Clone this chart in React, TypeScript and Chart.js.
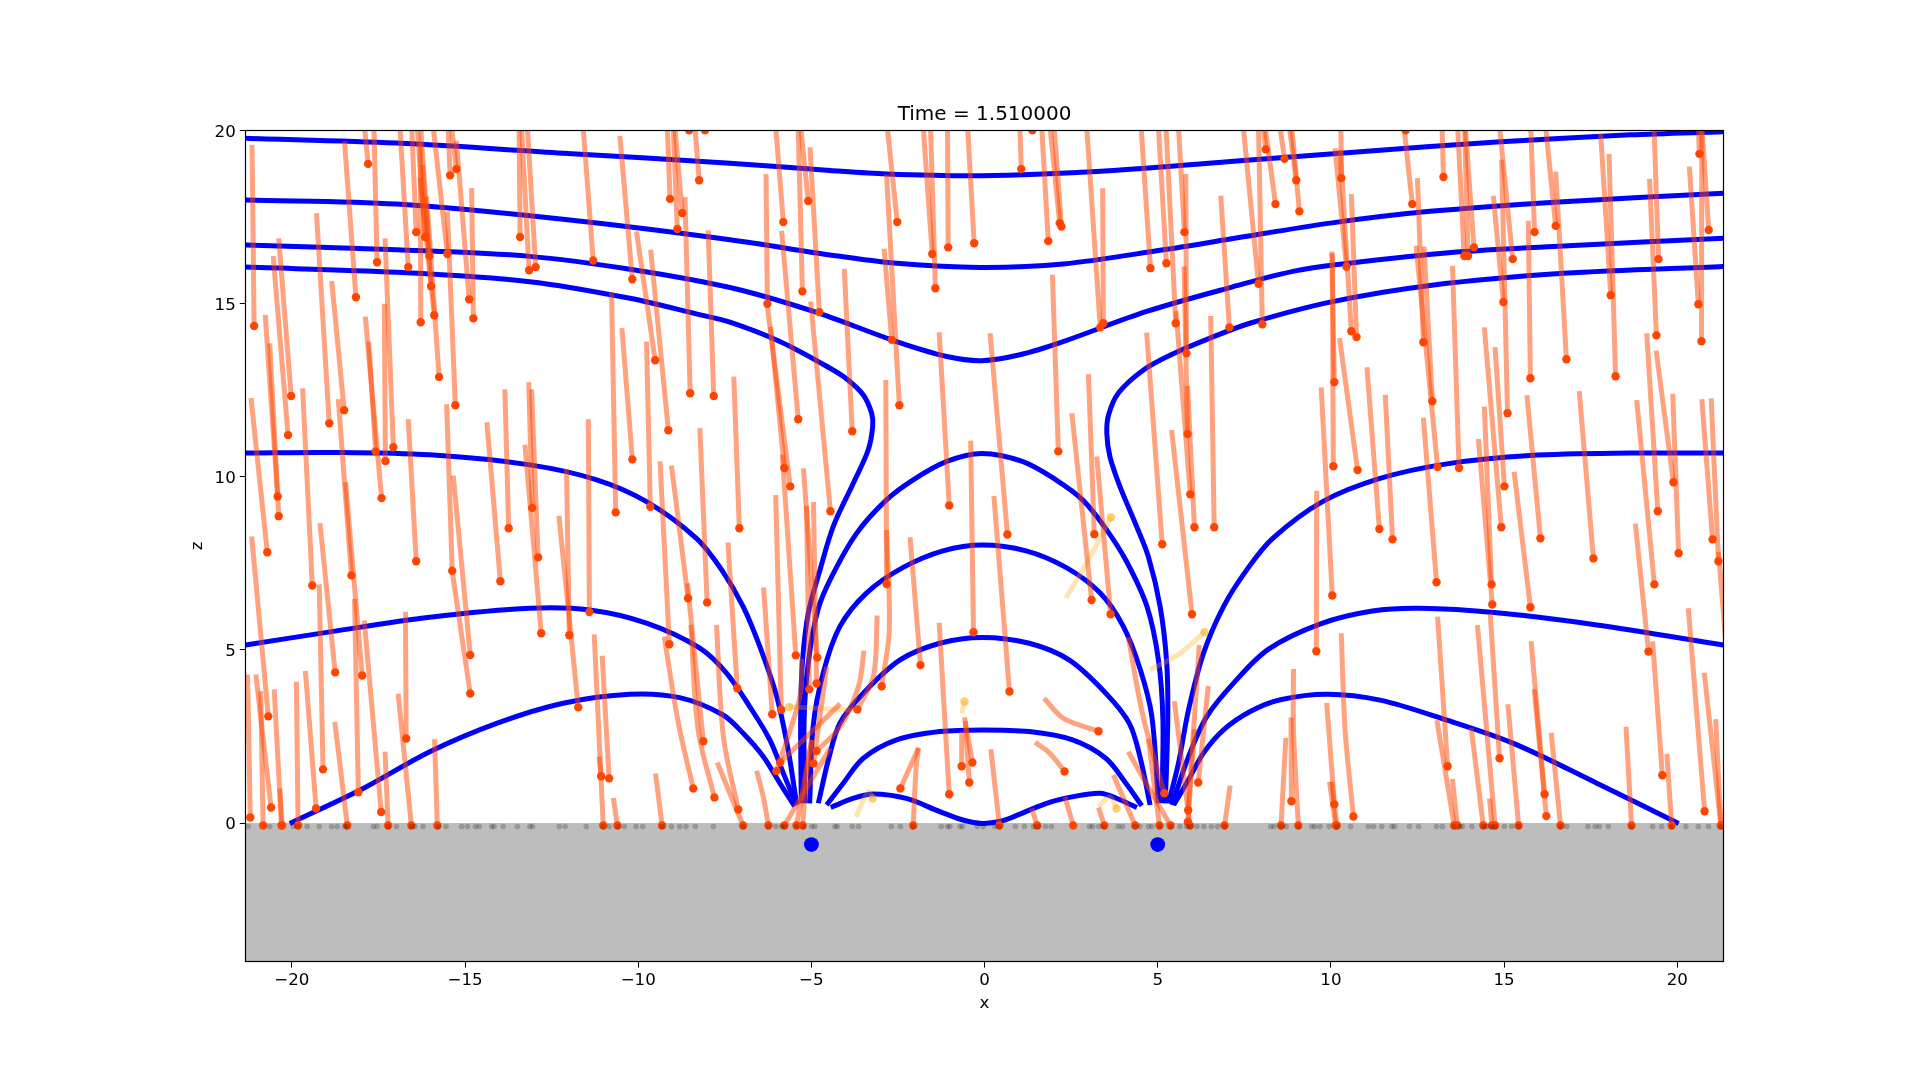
import React, { useEffect, useRef } from "react";
import { Chart, registerables } from "chart.js";

Chart.register(...registerables);

const titleText = "Time = 1.510000";
const xTicks = [-20, -15, -10, -5, 0, 5, 10, 15, 20];
const zTicks = [0, 5, 10, 15, 20];
const xLimit = 21.33;
const zMin = -4;
const zMax = 20;

// Field lines as [x, z] rows
const fieldTopA = [[-21.33,19.77],[-16.98,19.63],[-12.17,19.34],[-7.35,19.05],[-4.46,18.84],[-2.83,18.74],[-0.13,18.69],[3.24,18.81],[7.09,19.1],[10.94,19.39],[14.79,19.66],[18.64,19.87],[21.33,19.96]];
const fieldTopB = [[-21.33,17.99],[-16.98,17.87],[-12.17,17.43],[-7.35,16.84],[-4.46,16.4],[-2.54,16.16],[-0.13,16.04],[2.27,16.14],[5.16,16.55],[7.09,16.86],[9.98,17.32],[12.86,17.66],[16.71,17.94],[21.33,18.18]];
const fieldTopC = [[-21.33,16.69],[-16.98,16.55],[-13.13,16.36],[-10.24,15.99],[-7.35,15.46],[-4.94,14.77],[-2.54,13.9],[-1.09,13.47],[-0.08,13.35],[1.02,13.52],[2.27,13.9],[4.68,14.77],[7.09,15.46],[9.01,15.95],[10.94,16.21],[13.83,16.5],[16.71,16.66],[21.33,16.88]];
const fieldLeftD = [[-21.33,16.05],[-16.98,15.9],[-13.13,15.63],[-10.24,15.15],[-8.32,14.7],[-7.35,14.46],[-5.91,13.9],[-4.46,13.13],[-3.98,12.82],[-3.5,12.36],[-3.26,11.83],[-3.23,11.45],[-3.36,10.77],[-3.79,9.81],[-4.37,8.56],[-4.75,7.31],[-5.09,6.06],[-5.26,4.62],[-5.31,2.98],[-5.29,0.57]];
const fieldRightD = [[21.33,16.07],[16.71,15.87],[12.86,15.52],[9.98,15.04],[7.66,14.43],[6.51,14.0],[5.45,13.55],[4.59,13.08],[3.86,12.41],[3.58,11.78],[3.53,11.25],[3.62,10.58],[3.91,9.71],[4.35,8.66],[4.73,7.69],[5.07,6.25],[5.26,4.62],[5.29,2.98],[5.22,0.57]];
const fieldLeftG = [[-21.33,10.68],[-18.9,10.7],[-16.02,10.63],[-13.13,10.34],[-11.2,9.91],[-9.76,9.28],[-8.32,8.22],[-7.59,7.31],[-6.97,6.25],[-6.49,5.1],[-6.0,3.65],[-5.67,2.11],[-5.43,0.57]];
const fieldRightG = [[21.33,10.68],[18.64,10.68],[15.75,10.61],[13.35,10.37],[11.42,9.95],[9.76,9.28],[8.32,8.22],[7.57,7.31],[6.9,6.25],[6.32,4.9],[5.89,3.27],[5.6,1.73],[5.31,0.57]];
const fieldLeftE = [[-21.33,5.14],[-18.9,5.52],[-16.02,5.94],[-13.13,6.2],[-11.4,6.15],[-9.76,5.77],[-8.22,5.05],[-7.45,4.33],[-6.78,3.36],[-6.2,2.4],[-5.77,1.34],[-5.43,0.52]];
const fieldRightE = [[21.33,5.14],[17.68,5.72],[14.79,6.07],[12.58,6.2],[11.2,6.12],[9.7,5.75],[8.2,5.02],[7.19,4.04],[6.42,3.08],[5.89,1.92],[5.41,0.52]];
const fieldLeftF = [[-20.06,-0.01],[-17.94,1.0],[-16.02,2.06],[-14.09,2.88],[-12.17,3.46],[-10.24,3.72],[-8.8,3.62],[-7.55,3.12],[-6.97,2.59],[-6.39,1.92],[-5.91,1.15],[-5.48,0.48]];
const fieldRightF = [[20.04,-0.01],[17.68,1.15],[15.27,2.3],[13.35,2.97],[11.42,3.55],[9.9,3.72],[8.54,3.56],[7.67,3.22],[6.9,2.69],[6.32,2.02],[5.89,1.25],[5.46,0.52]];
const fieldArchH = [[-5.19,0.57],[-5.21,2.98],[-5.09,4.62],[-4.81,6.16],[-4.41,7.12],[-3.69,8.37],[-2.83,9.33],[-2.06,9.91],[-1.09,10.44],[-0.08,10.67],[1.09,10.44],[2.06,9.91],[2.83,9.33],[3.5,8.5],[4.1,7.55],[4.69,6.25],[5.02,4.71],[5.15,2.98],[5.12,0.57]];
const fieldArchI = [[-5.05,0.57],[-4.95,2.79],[-4.66,4.33],[-4.18,5.67],[-3.41,6.64],[-2.35,7.38],[-1.2,7.86],[-0.07,8.03],[1.2,7.86],[2.35,7.38],[3.34,6.64],[4.01,5.67],[4.5,4.42],[4.83,3.08],[5.02,0.57]];
const fieldArchJ = [[-4.8,0.57],[-4.51,1.82],[-4.18,2.88],[-3.5,3.75],[-2.44,4.71],[-1.29,5.19],[-0.07,5.36],[1.29,5.19],[2.44,4.71],[3.5,3.75],[4.18,2.88],[4.51,1.82],[4.78,0.52]];
const fieldArchK = [[-4.56,0.52],[-4.08,1.15],[-3.5,1.87],[-2.54,2.4],[-1.29,2.64],[-0.07,2.69],[1.29,2.64],[2.54,2.4],[3.5,1.87],[4.08,1.15],[4.54,0.5]];
const fieldArchL = [[-4.44,0.45],[-3.8,0.71],[-3.22,0.84],[-2.26,0.71],[-1.29,0.33],[-0.6,0.08],[-0.07,-0.01],[0.5,0.06],[0.83,0.18],[1.79,0.57],[2.6,0.77],[3.34,0.86],[3.82,0.71],[4.4,0.45]];

// Particle tracks: head x, head z, then the tail's x, z points
const tracksUpperLeft = [
[-21.09,14.35,-21.15,19.58],[-17.8,19.03,-17.92,20.3],[-17.54,16.19,-17.63,20.1],[-18.15,15.18,-18.48,19.68],[-16.64,16.05,-16.88,20.1],[-16.41,17.06,-16.54,20.1],[-16.15,16.92,-16.38,20.1],[-16.03,16.38,-16.28,20.1],[-15.98,15.5,-16.23,19.0],[-15.89,14.66,-16.3,18.62],[-15.75,12.88,-16.11,18.09],[-16.28,14.46,-16.29,19.63],[-15.51,16.43,-15.92,20.1],[-15.43,18.7,-15.49,20.1],[-15.25,18.88,-15.39,20.1],[-14.88,15.12,-15.25,19.7],[-14.76,14.57,-14.81,18.33],[-15.28,12.06,-15.51,17.65],[-13.41,16.92,-13.44,20.1],[-13.15,15.96,-13.37,20.1],[-12.96,16.05,-13.2,20.1],[-11.3,16.24,-11.59,20.1],[-10.17,15.7,-10.53,19.84],[-9.51,13.36,-10.05,17.08],[-9.13,11.34,-9.64,16.55],[-9.08,18.02,-9.16,20.1],[-8.87,17.15,-8.99,20.1],[-8.73,17.61,-8.94,20.1],[-8.5,12.41,-8.65,18.07],[-7.82,12.33,-7.98,17.11],[-8.24,18.56,-8.36,20.1],[-20.02,12.33,-20.38,16.88],[-20.11,11.2,-20.54,16.37],[-18.92,11.54,-19.29,17.61],[-18.49,11.92,-18.85,15.65],[-20.41,9.43,-20.77,14.67],[-20.38,8.86,-20.64,13.85],[-17.41,9.38,-17.88,14.62],[-17.58,10.73,-17.78,13.9],[-17.3,10.45,-17.33,14.99],[-17.07,10.85,-17.31,16.88],[-13.06,9.1,-13.16,12.73],[-13.74,8.51,-13.85,12.52],[-10.65,8.97,-10.77,15.32],[-10.17,10.5,-10.47,14.29],[-9.65,9.13,-9.76,13.9],[-7.08,8.51,-7.24,12.89],
];
const tracksMiddleLeft = [
[-19.41,6.86,-19.69,12.55],[-20.71,7.82,-21.18,12.27],[-18.75,4.35,-19.19,8.66],[-18.28,7.15,-18.66,12.24],[-17.97,4.26,-18.45,9.84],[-16.41,7.56,-16.64,11.66],[-15.37,7.28,-15.53,12.09],[-14.85,4.85,-15.34,10.03],[-13.98,6.98,-14.37,11.57],[-11.99,5.42,-12.07,10.22],[-11.41,6.09,-11.44,11.66],[-11.73,3.34,-12.29,8.87],[-12.8,5.48,-13.27,10.92],[-12.89,7.67,-13.08,12.52],[-9.1,5.16,-9.37,10.44],[-8.56,6.49,-9.04,10.32],[-8.01,6.37,-8.22,11.4],
];
const tracksLowerLeft = [
[-20.68,3.08,-21.16,8.27],[-21.2,0.16,-21.28,4.29],[-20.83,-0.07,-20.9,3.81],[-20.6,0.45,-21.04,4.29],[-20.3,-0.07,-20.51,3.86],[-20.28,-0.07,-20.35,1.0],[-19.82,-0.07,-19.87,4.08],[-19.3,0.42,-19.61,4.39],[-19.1,1.55,-19.21,6.89],[-18.4,-0.07,-18.76,2.92],[-18.08,0.89,-18.19,6.47],[-17.42,0.32,-17.91,5.85],[-17.22,-0.07,-17.31,2.06],[-16.7,2.44,-16.72,6.1],[-16.55,-0.07,-16.93,3.73],[-15.8,-0.07,-15.88,2.42],[-14.85,3.74,-15.39,7.4],[-11.01,-0.07,-11.27,5.45],[-10.84,1.29,-11.04,4.83],[-11.07,1.35,-11.13,1.92],[-10.6,-0.07,-10.72,0.73],[-9.31,-0.07,-9.5,1.43],[-8.41,1.0,-8.84,2.88,-9.25,5.38],[-8.12,2.36,-8.58,6.92],[-7.8,0.74,-8.27,2.69,-8.48,5.72],[-7.11,0.39,-7.54,2.49,-7.74,5.72],[-6.97,-0.07,-7.72,1.75],[-7.14,3.89,-7.41,8.1],
];
const tracksLowerMiddle = [
[-6.13,3.14,-6.38,6.8],[-6.24,-0.07,-6.39,0.76,-6.58,1.51],[-5.78,-0.07,-4.46,2.16],[-5.45,4.84,-5.84,10.64],[-5.87,3.27,-6.03,9.47],[-4.83,4.78,-5.23,10.24],[-4.85,4.03,-4.94,9.27],[-5.06,3.86,-5.14,9.16],[-5.9,1.75,-4.17,3.44],[-6.01,1.5,-5.33,3.65,-5.28,4.75],[-4.85,2.08,-4.17,2.78,-3.64,3.94,-3.48,4.98],[-3.67,3.28,-3.21,4.23,-3.1,5.99],[-2.97,3.95,-2.75,5.57,-2.83,8.46],[-2.83,6.9,-2.85,12.79],[-5.43,-0.07,-4.99,2.4],[-5.25,-0.07,-5.14,1.43,-4.99,2.4],[-4.94,1.72,-4.56,4.51],[-1.85,4.56,-2.15,8.25],[-0.32,5.51,-0.4,11.04],[0.72,3.8,0.27,9.44],[0.66,8.33,0.16,14.14],[-1.02,0.83,-1.31,5.78],[-0.66,1.64,-0.66,2.64],[-0.35,1.75,-0.58,3.05],[-0.44,1.17,-0.56,2.95],[-2.06,-0.07,-1.98,1.53,-1.91,2.18],[-2.43,1.0,-1.91,2.16],[0.43,-0.07,0.18,2.13],[1.52,-0.07,1.36,0.42],[2.56,-0.07,2.32,0.76],[3.46,-0.07,3.29,0.44],[4.35,-0.07,3.72,1.39],[2.31,1.49,1.89,2.01,1.46,2.33],[3.29,2.65,2.28,3.02,1.72,3.6],[3.09,6.44,2.52,11.83],[3.64,6.03,3.24,10.58],[3.17,8.34,3.0,12.96],[5.19,0.86,4.58,3.07,4.15,5.36],[6.17,1.17,6.46,3.96],[5.88,0.37,6.2,5.14],[5.87,0.03,6.06,2.71],[5.05,-0.07,4.73,2.43],[5.37,-0.07,4.78,0.95,4.15,2.06],[5.93,-0.07,5.48,3.52],[6.93,-0.07,7.09,1.08],
];
const tracksUpperMiddle = [
[-5.81,17.35,-6.03,20.1],[-5.09,17.96,-5.31,20.1],[-5.26,15.35,-5.38,20.1],[-4.77,14.75,-5.04,19.51],[-6.27,14.99,-6.31,18.74],[-5.38,11.66,-5.86,17.1],[-5.61,9.72,-6.27,14.91],[-5.78,10.25,-6.18,14.33],[-3.82,11.31,-4.05,16.0],[-4.45,9.0,-5.02,15.06],[-2.52,17.35,-2.81,20.1],[-2.68,13.95,-2.9,16.58],[-2.46,12.06,-2.83,18.73],[-1.51,16.43,-1.77,20.1],[-1.42,15.44,-1.56,20.1],[-1.05,16.62,-1.07,20.1],[-0.3,16.74,-0.49,20.1],[-1.02,9.17,-1.31,14.17],[1.06,18.88,1.02,20.1],[1.84,16.8,1.65,20.1],[2.17,17.32,1.89,20.1],[2.22,17.22,2.01,20.1],[2.13,10.73,1.96,15.83],[3.43,14.43,3.41,18.33],[3.34,14.31,2.95,20.1],[4.79,16.02,4.52,20.1],[5.25,16.16,5.02,20.1],[5.52,14.43,5.24,20.1],[5.77,17.06,5.6,20.1],[5.83,13.56,5.81,18.74],[5.86,11.23,5.76,16.07],[5.94,9.49,5.53,14.78],[7.07,14.31,6.82,18.11],[6.63,8.54,6.53,14.64],[6.06,8.54,5.86,12.62],[5.13,8.05,4.68,14.16],[5.99,6.03,5.4,11.35],
];
const tracksUpperRight = [
[7.91,15.57,7.47,20.1],[8.12,19.45,8.05,20.1],[8.4,17.87,8.1,20.1],[8.02,14.4,7.91,20.1],[8.66,19.18,8.53,20.1],[9.0,18.56,8.8,20.1],[9.09,17.66,8.87,20.1],[10.3,18.62,10.29,20.1],[10.45,16.06,10.12,19.48],[10.59,14.2,10.27,19.44],[10.74,14.03,10.59,18.16],[10.1,12.73,10.03,16.5],[10.07,10.3,10.04,16.45],[10.77,10.19,10.25,14.0],[12.35,17.87,12.11,20.1],[13.25,18.65,13.21,20.1],[12.67,13.88,12.5,18.62],[12.93,12.18,12.69,16.64],[13.08,10.28,12.46,16.67],[13.7,10.25,13.51,16.09],[13.85,16.37,13.66,20.1],[13.96,16.37,13.86,20.1],[14.13,16.62,13.88,20.1],[14.98,15.04,14.69,18.11],[15.25,16.28,14.87,20.1],[15.1,11.83,14.93,19.15],[15.01,9.72,14.74,13.74],[14.92,8.54,14.43,14.31],[15.76,12.84,15.7,17.39],[15.88,17.06,15.77,20.1],[16.49,17.24,16.2,20.1],[16.8,13.39,16.49,18.81],[16.05,8.22,15.66,12.35],[18.08,15.24,17.79,19.9],[18.22,12.9,18.03,19.32],[19.4,14.08,19.2,18.6],[19.46,16.28,19.33,20.1],[20.61,14.98,20.35,18.95],[20.7,13.91,20.71,20.1],[20.64,19.32,20.61,20.1],[20.91,17.12,20.71,20.1],[19.89,9.84,19.39,13.64],[19.44,9.0,19.12,14.14],[21.02,8.19,20.71,12.24],[11.4,8.49,11.04,13.16],[11.78,8.19,11.57,12.36],
];
const tracksLowerRight = [
[21.19,7.56,20.98,12.26],[20.04,7.79,19.87,12.39],[19.34,6.89,18.83,12.21],[17.58,7.64,17.17,12.47],[19.17,4.95,18.79,8.65],[13.05,6.95,12.67,11.7],[14.64,6.89,14.43,12.02],[14.66,6.31,14.26,11.09],[15.76,6.23,15.29,10.14],[9.58,4.96,9.59,9.59],[10.04,6.57,9.72,12.58],[13.37,1.64,13.08,5.96],[14.87,1.87,14.6,6.05],[14.4,-0.07,14.05,2.75],[14.74,-0.07,14.23,5.72],[14.65,-0.07,14.58,0.71],[13.56,-0.07,13.06,2.97],[13.65,-0.07,13.51,1.27],[15.42,-0.07,15.11,3.43],[16.17,0.83,15.78,5.25],[16.22,0.2,15.87,3.86],[16.63,-0.07,16.36,2.61],[18.68,-0.07,18.52,2.78],[19.57,1.38,19.29,5.24],[19.84,-0.07,19.7,2.0],[20.79,0.34,20.32,6.2],[21.26,-0.07,20.78,4.34],[21.26,-0.07,21.11,3.0],[21.53,3.65,21.19,7.83],[8.86,0.63,8.85,3.05],[9.06,-0.07,8.92,2.69,8.92,4.45],[8.56,-0.07,8.7,2.46],[10.1,0.54,9.88,3.47],[10.17,-0.07,10.03,1.19],[10.14,-0.07,9.96,1.19],[10.65,0.19,10.41,2.69,10.3,5.48],
];
const tracksFaded = [
[-0.58,3.51,-0.66,3.17],[-3.23,0.71,-3.36,0.9,-3.71,0.18],[3.81,0.42,3.62,0.76,3.29,0.47],[-5.64,3.35,-3.74,3.26],[6.35,5.51,5.64,4.9,4.78,4.42],[3.65,8.83,3.05,7.69,2.35,6.49],
];
const topEdgeHeadsX = [-8.53, -8.07, 1.38, 12.16];
const topEdgeHeadsZ = [20, 20, 20, 20];
const groundX = [-21.26,-20.64,-19.96,-19.82,-19.56,-19.21,-18.85,-18.69,-18.47,-18.4,-17.65,-17.54,-17.22,-16.98,-16.55,-16.45,-16.21,-15.77,-15.55,-15.1,-14.93,-14.7,-14.59,-14.23,-14.16,-13.9,-13.49,-13.13,-13.05,-12.28,-12.11,-11.5,-11.01,-10.84,-10.58,-10.4,-10.06,-9.87,-9.31,-9.04,-8.8,-8.62,-8.35,-7.83,-6.97,-6.24,-6.03,-5.86,-5.76,-5.43,-5.23,-4.99,-4.9,-4.32,-4.25,-3.82,-3.64,-2.69,-2.43,-2.06,-1.25,-1.07,-1.0,-0.71,-0.64,-0.21,-0.04,0.3,0.43,0.89,1.15,1.41,1.55,1.76,1.93,3.03,3.12,3.3,3.45,3.86,3.98,4.35,4.49,4.73,4.83,5.07,5.38,5.64,5.84,5.95,6.13,6.33,6.55,6.73,6.94,8.26,8.36,8.56,8.71,9.06,9.45,9.54,9.69,9.95,10.17,10.57,11.08,11.23,11.47,11.76,11.84,12.27,12.53,13.05,13.22,13.56,13.73,13.8,14.07,14.4,14.5,14.65,14.74,15.01,15.22,15.42,16.63,16.81,17.42,17.63,17.75,18.01,18.68,19.29,19.55,19.84,20.25,20.61,20.9,21.26];
const groundZ = -0.1;
const sourceX = [-5, 5];
const sourceZ = [-0.62, -0.62];

const fieldLines = [fieldTopA, fieldTopB, fieldTopC, fieldLeftD, fieldRightD, fieldLeftG, fieldRightG, fieldLeftE, fieldRightE, fieldLeftF, fieldRightF, fieldArchH, fieldArchI, fieldArchJ, fieldArchK, fieldArchL];
const allTracks = [...tracksUpperLeft, ...tracksMiddleLeft, ...tracksLowerLeft, ...tracksLowerMiddle, ...tracksUpperMiddle, ...tracksUpperRight, ...tracksLowerRight];

const toPoints = (flat: number[]) => {
  const pts: { x: number; y: number }[] = [];
  for (let i = 0; i < flat.length; i += 2) pts.push({ x: flat[i], y: flat[i + 1] });
  return pts;
};

const frame = {
  id: "frame",
  afterDraw(chart: any) {
    const { ctx, chartArea: a } = chart;
    ctx.save();
    ctx.strokeStyle = "#000";
    ctx.lineWidth = 1.2;
    const l = Math.floor(a.left) + 0.5;
    const t = Math.floor(a.top) + 0.5;
    ctx.strokeRect(l, t, Math.floor(a.right) + 0.5 - l, Math.floor(a.bottom) + 0.5 - t);
    ctx.restore();
  },
};

export default function App() {
  const ref = useRef<HTMLCanvasElement>(null);
  useEffect(() => {
    document.body.style.margin = "0";
    const font = { family: "'DejaVu Sans'", size: 16.67 };
    const datasets: any[] = [];
    datasets.push({
      data: [{ x: -xLimit, y: 0 }, { x: xLimit, y: 0 }],
      showLine: true, fill: "start", backgroundColor: "#bdbdbd", borderWidth: 0, pointRadius: 0, order: 60, clip: 0,
    });
    fieldLines.forEach((line) =>
      datasets.push({
        data: line.map(([x, y]) => ({ x, y })),
        showLine: true, borderColor: "#0000ff", borderWidth: 5, tension: 0.33, pointRadius: 0, order: 50, clip: 0,
      })
    );
    allTracks.forEach((t) =>
      datasets.push({
        data: toPoints(t),
        showLine: true, borderColor: "rgba(255,69,0,0.5)", borderWidth: 5, tension: 0.33, pointRadius: 0, order: 40, clip: 0,
      })
    );
    tracksFaded.forEach((t) =>
      datasets.push({
        data: toPoints(t),
        showLine: true, borderColor: "rgba(255,165,0,0.3)", borderWidth: 5, tension: 0.33, pointRadius: 0, order: 41, clip: 0,
      })
    );
    datasets.push({
      data: tracksFaded.map((t) => ({ x: t[0], y: t[1] })),
      backgroundColor: "rgba(255,165,0,0.55)", pointRadius: 4.2, pointBorderWidth: 0, order: 30, clip: 0,
    });
    datasets.push({
      data: [...allTracks.map((t) => ({ x: t[0], y: t[1] })), ...topEdgeHeadsX.map((x, i) => ({ x, y: topEdgeHeadsZ[i] }))],
      backgroundColor: "#ff4500", pointRadius: 4.2, pointBorderWidth: 0, order: 20, clip: 0,
    });
    datasets.push({
      data: groundX.map((x) => ({ x, y: groundZ })),
      backgroundColor: "rgba(0,0,0,0.2)", pointRadius: 2.8, pointBorderWidth: 0, order: 10, clip: 0,
    });
    datasets.push({
      data: sourceX.map((x, i) => ({ x, y: sourceZ[i] })),
      backgroundColor: "#0000ff", pointRadius: 7.4, pointBorderWidth: 0, order: 5, clip: 0,
    });

    const chart = new Chart(ref.current!, {
      type: "scatter",
      data: { datasets },
      plugins: [frame],
      options: {
        animation: false,
        responsive: false,
        layout: { padding: { left: 0, right: 196.7, top: 0, bottom: 0 } },
        plugins: {
          legend: { display: false },
          tooltip: { enabled: false },
          title: {
            display: true, text: titleText, color: "#000", fullSize: false,
            font: { family: "'DejaVu Sans'", size: 20, weight: "normal" },
            padding: { top: 102.7, bottom: 3.6 },
          },
        },
        scales: {
          x: {
            type: "linear", min: -xLimit, max: xLimit,
            afterBuildTicks: (a: any) => { a.ticks = xTicks.map((value) => ({ value })); },
            afterFit: (a: any) => { a.height = 118.4; },
            grid: { drawOnChartArea: false, drawTicks: true, tickLength: 6, color: "#000", tickWidth: 1 },
            border: { display: false },
            ticks: { color: "#000", font, padding: 3.5, autoSkip: false, maxRotation: 0, callback: (v: any) => String(v).replace("-", "\u2212") },
            title: { display: true, text: "x", color: "#000", font, padding: { top: 0, bottom: 66.8 } },
          },
          y: {
            type: "linear", min: zMin, max: zMax,
            afterBuildTicks: (a: any) => { a.ticks = zTicks.map((value) => ({ value })); },
            afterFit: (a: any) => { a.width = 245.8; },
            grid: { drawOnChartArea: false, drawTicks: true, tickLength: 6, color: "#000", tickWidth: 1 },
            border: { display: false },
            ticks: { color: "#000", font, padding: 4, labelOffset: 2, autoSkip: false, callback: (v: any) => String(v) },
            title: { display: true, text: "z", color: "#000", font, padding: { top: 187.3, bottom: 0 } },
          },
        },
      },
    } as any);
    return () => chart.destroy();
  }, []);
  return <canvas ref={ref} width={1920} height={1080} style={{ display: "block" }} />;
}
